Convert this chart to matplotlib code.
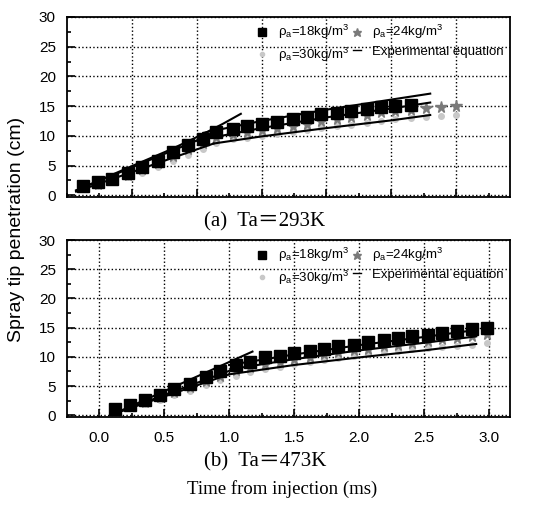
import matplotlib
matplotlib.use("Agg")
import matplotlib.pyplot as plt
from matplotlib.ticker import MultipleLocator, FixedLocator
from matplotlib.lines import Line2D

# ---------------- data: (a) Ta=293K ----------------
t_a = [0.12, 0.24, 0.35, 0.47, 0.58, 0.70, 0.82, 0.93, 1.05, 1.15, 1.28, 1.39,
       1.50, 1.62, 1.74, 1.85, 1.96, 2.08, 2.19, 2.31, 2.42, 2.53, 2.65, 2.77,
       2.88, 3.00]
a_18 = [1.6, 2.2, 2.8, 3.7, 4.8, 5.8, 7.2, 8.5, 9.5, 10.7, 11.2, 11.7, 12.0,
        12.4, 12.8, 13.2, 13.6, 13.9, 14.2, 14.5, 14.8, 15.0, 15.2]
a_24 = [1.3, 1.9, 2.6, 3.4, 4.4, 5.4, 6.6, 7.8, 8.8, 9.8, 10.3, 10.6, 10.9,
        11.3, 11.6, 12.0, 12.5, 12.8, 13.2, 13.5, 14.0, 14.2, 14.4, 14.6,
        14.8, 15.0]
a_30 = [1.0, 1.5, 2.2, 3.0, 3.8, 4.8, 5.8, 6.8, 7.8, 8.8, 9.4, 9.7, 10.0,
        10.3, 10.6, 10.9, 11.3, 11.6, 11.9, 12.2, 12.5, 12.8, 13.0, 13.2,
        13.4, 13.5]
# experimental equation lines (a): pre-break-up and post-break-up segments
a_eq18_pre_t = [0.07, 0.5, 0.8, 1.05, 1.2, 1.34]
a_eq18_pre_v = [0.8, 4.9, 7.7, 10.3, 12.0, 13.7]
a_eq18_post_t = [1.05, 1.5, 2.0, 2.5, 2.8]
a_eq18_post_v = [10.5, 12.5, 14.4, 16.1, 17.1]
a_eq24_pre_t = [0.07, 1.0]
a_eq24_pre_v = [0.8, 9.2]
a_eq24_post_t = [1.0, 1.5, 2.0, 2.5, 2.8]
a_eq24_post_v = [9.2, 11.3, 13.1, 14.6, 15.6]
a_eq30_pre_t = [0.07, 1.13]
a_eq30_pre_v = [0.6, 8.7]
a_eq30_post_t = [1.13, 1.5, 2.0, 2.5, 2.8]
a_eq30_post_v = [8.7, 9.9, 11.3, 12.6, 13.5]

# ---------------- data: (b) Ta=473K ----------------
t_b = [0.12, 0.24, 0.35, 0.47, 0.58, 0.70, 0.82, 0.93, 1.05, 1.16, 1.28, 1.39,
       1.50, 1.62, 1.73, 1.84, 1.96, 2.07, 2.19, 2.30, 2.41, 2.53, 2.64, 2.75,
       2.87, 2.98]
b_18 = [1.0, 1.8, 2.6, 3.5, 4.5, 5.4, 6.5, 7.6, 8.6, 9.2, 9.9, 10.1, 10.6,
        11.0, 11.4, 11.8, 12.1, 12.5, 12.9, 13.2, 13.5, 13.8, 14.1, 14.5,
        14.7, 15.0]
b_24 = [0.9, 1.6, 2.3, 3.1, 4.0, 4.9, 5.9, 6.8, 7.7, 8.2, 8.8, 9.2, 9.6,
        10.0, 10.4, 10.8, 11.1, 11.4, 11.8, 12.1, 12.4, 12.7, 13.0, 13.3,
        13.6, 13.9]
b_30 = [0.8, 1.3, 1.9, 2.6, 3.4, 4.2, 5.1, 6.0, 6.8, 7.4, 7.9, 8.3, 8.7,
        9.1, 9.4, 9.8, 10.1, 10.4, 10.7, 11.0, 11.3, 11.5, 11.7, 11.9,
        12.1, 12.3]
b_eq18_pre_t = [0.12, 1.18]
b_eq18_pre_v = [0.3, 10.9]
b_eq18_post_t = [1.0, 1.5, 2.0, 2.5, 2.9]
b_eq18_post_v = [8.6, 10.4, 12.0, 13.4, 14.6]
b_eq24_pre_t = [0.12, 1.05]
b_eq24_pre_v = [0.3, 8.0]
b_eq24_post_t = [1.05, 1.5, 2.0, 2.5, 2.9]
b_eq24_post_v = [8.0, 9.6, 11.1, 12.4, 13.5]
b_eq30_pre_t = [0.12, 1.0]
b_eq30_pre_v = [0.3, 7.0]
b_eq30_post_t = [1.0, 1.5, 2.0, 2.5, 2.9]
b_eq30_post_v = [7.0, 8.6, 9.9, 11.1, 12.2]

y_ticks = [0, 5, 10, 15, 20, 25, 30]
x_ticks_b = [0.0, 0.5, 1.0, 1.5, 2.0, 2.5, 3.0]
x_ticks_a = [0.5, 1.0, 1.5, 2.0, 2.5, 3.0]

labels = [r"$\rho_a$=18kg/m$^3$", r"$\rho_a$=24kg/m$^3$",
          r"$\rho_a$=30kg/m$^3$", "Experimental equation"]

plt.rcParams['font.family'] = ['Liberation Sans', 'DejaVu Sans']
plt.rcParams['mathtext.fontset'] = 'custom'
plt.rcParams['mathtext.rm'] = 'Liberation Sans'
plt.rcParams['mathtext.it'] = 'Liberation Sans'

fig = plt.figure(figsize=(5.38, 5.07), dpi=100)
ax_a = fig.add_axes([67/538, 1-197/507, 443/538, 180/507])
ax_b = fig.add_axes([67/538, 1-417/507, 443/538, 177/507])

sq = dict(marker='s', color='black', markersize=8, linestyle='none')
st = dict(marker='*', color='#7a7a7a', markersize=8.5, linestyle='none')
dt = dict(marker='o', color='#c8c8c8', markersize=4, linestyle='none')
ln = dict(color='black', linewidth=1.5)

def draw(ax, t, v18, v24, v30, eqs):
    ax.plot(t[:len(v30)], v30, **dt)
    ax.plot(t[:len(v24)], v24, **st)
    ax.plot(t[:len(v18)], v18, **sq)
    for et, ev in eqs:
        ax.plot(et, ev, **ln)

draw(ax_a, t_a, a_18, a_24, a_30,
     [(a_eq18_pre_t, a_eq18_pre_v), (a_eq18_post_t, a_eq18_post_v),
      (a_eq24_pre_t, a_eq24_pre_v), (a_eq24_post_t, a_eq24_post_v),
      (a_eq30_pre_t, a_eq30_pre_v), (a_eq30_post_t, a_eq30_post_v)])
draw(ax_b, t_b, b_18, b_24, b_30,
     [(b_eq18_pre_t, b_eq18_pre_v), (b_eq18_post_t, b_eq18_post_v),
      (b_eq24_pre_t, b_eq24_pre_v), (b_eq24_post_t, b_eq24_post_v),
      (b_eq30_pre_t, b_eq30_pre_v), (b_eq30_post_t, b_eq30_post_v)])

ax_a.set_xlim(0.0, 3.415)
ax_b.set_xlim(-0.246, 3.16)
for ax in (ax_a, ax_b):
    ax.set_ylim(-0.3, 30)
    ax.yaxis.set_major_locator(FixedLocator(y_ticks))
    ax.yaxis.set_minor_locator(MultipleLocator(2.5))
    ax.xaxis.set_minor_locator(MultipleLocator(0.25))
    ax.tick_params(which='both', direction='in', top=False, right=False,
                   labelsize=11, width=1.2)
    ax.tick_params(axis='y', pad=8)
    ax.tick_params(axis='x', pad=10)
    ax.tick_params(which='major', length=6)
    ax.tick_params(which='minor', length=3)
    ax.grid(True, which='major', linestyle=':', color='black', linewidth=1.0)
    for s in ax.spines.values():
        s.set_linewidth(1.3)
    handles = [Line2D([], [], **sq), Line2D([], [], **dt),
               Line2D([], [], **st),
               Line2D([], [], color='black', linewidth=1.0)]
    leg = ax.legend(handles, [labels[0], labels[2], labels[1], labels[3]],
                    ncol=2, loc='upper right', frameon=False, fontsize=9.5,
                    handlelength=0.6, handletextpad=0.9, columnspacing=0.3,
                    labelspacing=0.35, borderaxespad=0.05, markerscale=0.75,
                    bbox_to_anchor=(1.0, 1.0))
ax_a.xaxis.set_major_locator(FixedLocator(x_ticks_a))
ax_a.set_xticklabels([])
ax_b.xaxis.set_major_locator(FixedLocator(x_ticks_b))
ax_b.set_xticklabels([f"{v:.1f}" for v in x_ticks_b])

serif = ['Liberation Serif', 'Noto Sans CJK JP']
fig.text(265/538, 1-222/507, "(a)  Ta＝293K", ha='center', va='center',
         fontsize=15, family=serif)
fig.text(265/538, 1-462/507, "(b)  Ta＝473K", ha='center', va='center',
         fontsize=15, family=serif)
fig.text(282/538, 1-489/507, "Time from injection (ms)", ha='center',
         va='center', fontsize=13.5, family=serif)
fig.text(17/538, 1-229/507, "Spray tip penetration (cm)", ha='center',
         va='center', rotation=90, fontsize=14)

fig.savefig("out.png", dpi=100)
